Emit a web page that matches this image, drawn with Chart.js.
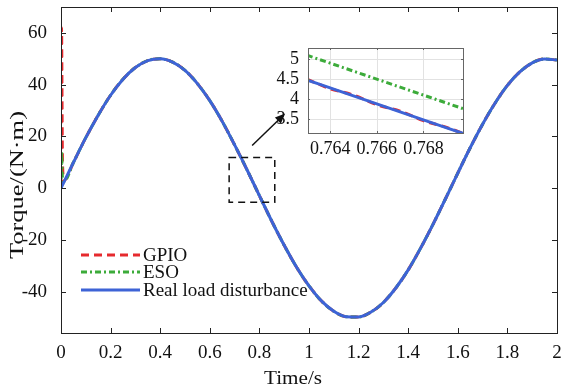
<!DOCTYPE html>
<html>
<head>
<meta charset="utf-8">
<script src="https://cdn.jsdelivr.net/npm/chart.js@4.4.1/dist/chart.umd.min.js"></script>
<style>
  html, body { margin: 0; padding: 0; background: #fff; }
  #wrap { position: relative; width: 563px; height: 389px; }
  #inset { position: absolute; left: 270px; top: 40px; }
</style>
</head>
<body>
<div id="wrap">
  <canvas id="main" width="563" height="389"></canvas>
  <canvas id="inset" width="200" height="118"></canvas>
</div>
<script>
// main plot, values
const timeMain = [0, 0.05, 0.1, 0.15, 0.2, 0.25, 0.3, 0.35, 0.4, 0.45, 0.5, 0.55, 0.6, 0.65, 0.7, 0.75,
    0.8, 0.85, 0.9, 0.95, 1, 1.05, 1.1, 1.15, 1.2, 1.25, 1.3, 1.35, 1.4, 1.45, 1.5, 1.55, 1.6, 1.65,
    1.7, 1.75, 1.8, 1.85, 1.9, 1.95, 2];
const realMain = [0, 9.9, 19.5, 28.2, 35.9, 42.1, 46.6, 49.3, 50.0, 48.7, 45.5, 40.4, 33.8, 25.8, 16.7, 7.1,
    -2.9, -12.8, -22.1, -30.6, -37.8, -43.6, -47.6, -49.7, -49.8, -47.9, -44.2, -38.6, -31.6, -23.2, -14.0, -4.2,
    5.8, 15.6, 24.7, 32.8, 39.7, 44.9, 48.4, 49.9, 49.5];
// start-up transients of the observers
const gpioStartT = [0, 0.002, 0.006, 0.012];
const gpioStartV = [0, 62, 10, 3];
const esoStartT = [0, 0.002, 0.006, 0.012];
const esoStartV = [0, 14, 4, 2.6];

// zoomed inset
const timeInset = [0.763, 0.764, 0.765, 0.766, 0.767, 0.768, 0.769, 0.770];
const realInset = [4.48, 4.28, 4.08, 3.88, 3.68, 3.48, 3.28, 3.08];
const gpioInset = [4.50, 4.26, 4.10, 3.86, 3.70, 3.46, 3.29, 3.07];
const esoInset = [5.10, 4.90, 4.70, 4.50, 4.30, 4.10, 3.90, 3.70];

const xTicksMain = [0, 0.2, 0.4, 0.6, 0.8, 1, 1.2, 1.4, 1.6, 1.8, 2];
const yTicksMain = [-40, -20, 0, 20, 40, 60];
const xTicksInset = [0.764, 0.766, 0.768];
const yTicksInset = [3.5, 4, 4.5, 5];

const RED = '#e62a2e', GREEN = '#3cab3a', BLUE = '#3d63d6';
const FONT = "'Liberation Serif', 'Times New Roman', serif";

const pts = (xs, ys) => xs.map((x, i) => ({ x: x, y: ys[i] }));
const gpioMain = pts(gpioStartT, gpioStartV).concat(pts(timeMain, realMain).slice(1));
const esoMain = pts(esoStartT, esoStartV).concat(pts(timeMain, realMain).slice(1));
const fmt = (v) => String(parseFloat(v.toFixed(4)));

const series = [
    { label: 'GPIO', color: RED, dash: [8, 5] },
    { label: 'ESO', color: GREEN, dash: [6, 3, 2, 3] },
    { label: 'Real load disturbance', color: BLUE, dash: [] }
];

// inward tick marks + box frame, MATLAB style
function drawFrame(chart, ctx, xTicks, yTicks, len, color) {
    const a = chart.chartArea, xs = chart.scales.x, ys = chart.scales.y;
    ctx.save();
    ctx.strokeStyle = color;
    ctx.lineWidth = 1;
    ctx.setLineDash([]);
    ctx.beginPath();
    xTicks.forEach(v => {
        const p = Math.round(xs.getPixelForValue(v)) + 0.5;
        ctx.moveTo(p, a.bottom); ctx.lineTo(p, a.bottom - len);
        ctx.moveTo(p, a.top); ctx.lineTo(p, a.top + len);
    });
    yTicks.forEach(v => {
        const p = Math.round(ys.getPixelForValue(v)) + 0.5;
        ctx.moveTo(a.left, p); ctx.lineTo(a.left + len, p);
        ctx.moveTo(a.right, p); ctx.lineTo(a.right - len, p);
    });
    ctx.stroke();
    ctx.strokeRect(Math.round(a.left) + 0.5, Math.round(a.top) + 0.5,
        Math.round(a.right - a.left), Math.round(a.bottom - a.top));
    ctx.restore();
}

// text squeezed/stretched to a given length (the figure's labels were resized)
function fitText(ctx, text, cx, cy, length, angle) {
    ctx.save();
    ctx.translate(cx, cy);
    ctx.rotate(angle);
    const w = ctx.measureText(text).width;
    ctx.scale(length / w, 1);
    ctx.textAlign = 'center';
    ctx.textBaseline = 'middle';
    ctx.fillText(text, 0, 0);
    ctx.restore();
}

const mainDecor = {
    id: 'mainDecor',
    afterDatasetsDraw(chart) {
        const ctx = chart.ctx, a = chart.chartArea, xs = chart.scales.x, ys = chart.scales.y;
        drawFrame(chart, ctx, xTicksMain, yTicksMain, 5, '#222');

        // dashed zoom box
        const bx0 = xs.getPixelForValue(0.678), bx1 = xs.getPixelForValue(0.862);
        const by0 = ys.getPixelForValue(11.8), by1 = ys.getPixelForValue(-5.5);
        ctx.save();
        ctx.strokeStyle = '#111';
        ctx.lineWidth = 1.5;
        ctx.setLineDash([7, 5]);
        ctx.strokeRect(bx0, by0, bx1 - bx0, by1 - by0);
        ctx.setLineDash([]);

        // arrow to the inset
        const ax0 = bx0 + 23, ay0 = by0 - 12, ax1 = bx0 + 56, ay1 = by0 - 44;
        const ang = Math.atan2(ay1 - ay0, ax1 - ax0);
        ctx.beginPath();
        ctx.moveTo(ax0, ay0); ctx.lineTo(ax1 - 6 * Math.cos(ang), ay1 - 6 * Math.sin(ang));
        ctx.stroke();
        ctx.fillStyle = '#111';
        ctx.beginPath();
        ctx.moveTo(ax1, ay1);
        ctx.lineTo(ax1 - 11 * Math.cos(ang - 0.4), ay1 - 11 * Math.sin(ang - 0.4));
        ctx.lineTo(ax1 - 11 * Math.cos(ang + 0.4), ay1 - 11 * Math.sin(ang + 0.4));
        ctx.closePath();
        ctx.fill();

        // legend, inside bottom-left
        ctx.font = '19px ' + FONT;
        ctx.textBaseline = 'middle';
        ctx.textAlign = 'left';
        const rows = [a.bottom - 78, a.bottom - 61, a.bottom - 43];
        series.forEach((s, i) => {
            ctx.strokeStyle = s.color;
            ctx.lineWidth = 3;
            ctx.setLineDash(s.dash);
            ctx.beginPath();
            ctx.moveTo(a.left + 20, rows[i]);
            ctx.lineTo(a.left + 79, rows[i]);
            ctx.stroke();
            ctx.fillStyle = '#111';
            ctx.fillText(s.label, a.left + 82, rows[i] + 1);
        });

        // axis titles
        ctx.fillStyle = '#111';
        ctx.font = '18px ' + FONT;
        fitText(ctx, 'Torque/(N·m)', 18, 185, 148, -Math.PI / 2);
        ctx.font = '19px ' + FONT;
        fitText(ctx, 'Time/s', 293, 379, 58, 0);
        ctx.restore();
    }
};

const insetDecor = {
    id: 'insetDecor',
    beforeDatasetsDraw(chart) {
        const ctx = chart.ctx, a = chart.chartArea, xs = chart.scales.x, ys = chart.scales.y;
        ctx.save();
        ctx.fillStyle = '#fff';
        ctx.fillRect(a.left, a.top, a.right - a.left, a.bottom - a.top);
        ctx.strokeStyle = '#e2e2e2';
        ctx.lineWidth = 1;
        ctx.beginPath();
        xTicksInset.forEach(v => {
            const p = Math.round(xs.getPixelForValue(v)) + 0.5;
            ctx.moveTo(p, a.top); ctx.lineTo(p, a.bottom);
        });
        yTicksInset.forEach(v => {
            const p = Math.round(ys.getPixelForValue(v)) + 0.5;
            ctx.moveTo(a.left, p); ctx.lineTo(a.right, p);
        });
        ctx.stroke();
        ctx.restore();
    },
    afterDatasetsDraw(chart) {
        drawFrame(chart, chart.ctx, xTicksInset, yTicksInset, 2, '#666');
    }
};

const lineSet = (label, data, color, dash, order) => ({
    label: label,
    data: data,
    borderColor: color,
    backgroundColor: color,
    borderWidth: 3,
    borderDash: dash,
    pointRadius: 0,
    cubicInterpolationMode: 'monotone',
    fill: false,
    order: order
});

const tickFont = { family: FONT, size: 19 };
// keep the plot box where the figure has it
const fixX = (h) => (s) => { s.height = h; s.paddingLeft = 0; s.paddingRight = 0; };
const fixY = (w) => (s) => { s.width = w; s.paddingTop = 0; s.paddingBottom = 0; };

new Chart(document.getElementById('main'), {
    type: 'line',
    data: {
        datasets: [
            lineSet('GPIO', gpioMain, RED, [8, 5], 3),
            lineSet('ESO', esoMain, GREEN, [6, 3, 2, 3], 2),
            lineSet('Real load disturbance', pts(timeMain, realMain), BLUE, [], 1)
        ]
    },
    options: {
        responsive: false,
        animation: false,
        devicePixelRatio: 1,
        layout: { padding: { top: 7, right: 6, left: 0, bottom: 0 } },
        plugins: { legend: { display: false }, tooltip: { enabled: false } },
        scales: {
            x: {
                type: 'linear', min: 0, max: 2,
                grid: { display: false },
                border: { display: false },
                afterBuildTicks: (s) => { s.ticks = xTicksMain.map(v => ({ value: v })); },
                afterFit: fixX(56),
                ticks: { color: '#111', font: tickFont, padding: 1, maxRotation: 0, autoSkip: false, callback: fmt }
            },
            y: {
                type: 'linear', min: -56, max: 70,
                grid: { display: false },
                border: { display: false },
                afterBuildTicks: (s) => { s.ticks = yTicksMain.map(v => ({ value: v })); },
                afterFit: fixY(61),
                ticks: { color: '#111', font: tickFont, padding: 6, callback: fmt }
            }
        }
    },
    plugins: [mainDecor]
});

new Chart(document.getElementById('inset'), {
    type: 'line',
    data: {
        datasets: [
            lineSet('GPIO', pts(timeInset, gpioInset), RED, [8, 5], 3),
            lineSet('ESO', pts(timeInset, esoInset), GREEN, [6, 3, 2, 3], 2),
            lineSet('Real load disturbance', pts(timeInset, realInset), BLUE, [], 1)
        ]
    },
    options: {
        responsive: false,
        animation: false,
        devicePixelRatio: 1,
        layout: { padding: { top: 8, right: 7, left: 0, bottom: 0 } },
        plugins: { legend: { display: false }, tooltip: { enabled: false } },
        scales: {
            x: {
                type: 'linear', min: 0.76305, max: 0.7697,
                grid: { display: false },
                border: { display: false },
                afterBuildTicks: (s) => { s.ticks = xTicksInset.map(v => ({ value: v })); },
                afterFit: fixX(25),
                ticks: { color: '#111', font: { family: FONT, size: 18 }, padding: -3, maxRotation: 0, autoSkip: false, callback: fmt }
            },
            y: {
                type: 'linear', min: 3.15, max: 5.28,
                grid: { display: false },
                border: { display: false },
                afterBuildTicks: (s) => { s.ticks = yTicksInset.map(v => ({ value: v })); },
                afterFit: fixY(38),
                ticks: { color: '#111', font: { family: FONT, size: 18 }, padding: 1, autoSkip: false, callback: fmt }
            }
        }
    },
    plugins: [insetDecor]
});
</script>
</body>
</html>
